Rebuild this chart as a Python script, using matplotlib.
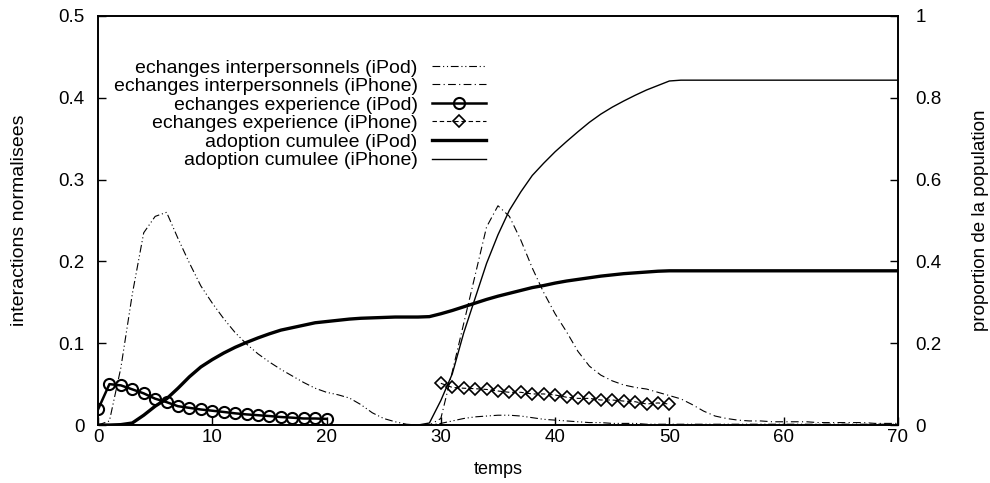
import numpy as np
import matplotlib
matplotlib.use("Agg")
import matplotlib.pyplot as plt

plt.rcParams["font.family"] = ["Liberation Sans", "DejaVu Sans"]

# temps
t_all = list(range(0, 71))
t_ipod_exp = list(range(0, 21))
t_iphone_exp = list(range(30, 51))

# echanges interpersonnels
inter_ipod = [0.0, 0.005, 0.07, 0.16, 0.235, 0.255, 0.26, 0.228, 0.198, 0.17,
              0.149, 0.13, 0.113, 0.099, 0.087, 0.077, 0.068, 0.06, 0.052, 0.045,
              0.04, 0.037, 0.033, 0.025, 0.015, 0.008, 0.004, 0.001, 0.0, 0.0,
              0.002, 0.005, 0.008, 0.01, 0.011, 0.012, 0.012, 0.011, 0.009, 0.007,
              0.006, 0.005, 0.004, 0.003, 0.003, 0.002, 0.002, 0.002, 0.001, 0.001,
              0.001, 0.001, 0.001, 0.001, 0.001, 0.001, 0.001, 0.001, 0.001, 0.001,
              0.001, 0.001, 0.001, 0.001, 0.001, 0.001, 0.001, 0.001, 0.001, 0.001,
              0.001]
inter_iphone = [0.0, 0.0, 0.0, 0.0, 0.0, 0.0, 0.0, 0.0, 0.0, 0.0,
                0.0, 0.0, 0.0, 0.0, 0.0, 0.0, 0.0, 0.0, 0.0, 0.0,
                0.0, 0.0, 0.0, 0.0, 0.0, 0.0, 0.0, 0.0, 0.0, 0.0,
                0.008, 0.065, 0.124, 0.183, 0.242, 0.268, 0.255, 0.226, 0.192, 0.162,
                0.136, 0.114, 0.09, 0.072, 0.061, 0.054, 0.049, 0.046, 0.044, 0.04,
                0.036, 0.032, 0.025, 0.017, 0.011, 0.008, 0.006, 0.005, 0.005, 0.004,
                0.004, 0.004, 0.004, 0.003, 0.003, 0.003, 0.003, 0.003, 0.002, 0.002,
                0.002]

# echanges experience
exp_ipod = [0.019, 0.05, 0.0485, 0.0436, 0.0387, 0.0322, 0.028, 0.023, 0.021, 0.019,
            0.0175, 0.016, 0.0143, 0.013, 0.012, 0.011, 0.0098, 0.009, 0.008, 0.008,
            0.0075]
exp_iphone = [0.051, 0.046, 0.045, 0.0444, 0.0435, 0.0416, 0.04, 0.04, 0.038, 0.038,
              0.0367, 0.034, 0.0326, 0.0326, 0.0306, 0.0306, 0.0293, 0.0285, 0.0257, 0.027,
              0.0257]

# adoption cumulee (axe de droite)
adopt_ipod = [0.0, 0.0, 0.001, 0.005, 0.024, 0.046, 0.064, 0.09, 0.118, 0.142,
              0.16, 0.176, 0.19, 0.202, 0.213, 0.223, 0.232, 0.238, 0.244, 0.25,
              0.253, 0.256, 0.259, 0.261, 0.262, 0.263, 0.264, 0.264, 0.264, 0.265,
              0.272, 0.28, 0.289, 0.298, 0.307, 0.315, 0.322, 0.329, 0.336, 0.341,
              0.347, 0.352, 0.356, 0.36, 0.364, 0.367, 0.37, 0.372, 0.374, 0.376,
              0.377, 0.377, 0.377, 0.377, 0.377, 0.377, 0.377, 0.377, 0.377, 0.377,
              0.377, 0.377, 0.377, 0.377, 0.377, 0.377, 0.377, 0.377, 0.377, 0.377,
              0.377]
adopt_iphone = [0.0, 0.0, 0.0, 0.0, 0.0, 0.0, 0.0, 0.0, 0.0, 0.0,
                0.0, 0.0, 0.0, 0.0, 0.0, 0.0, 0.0, 0.0, 0.0, 0.0,
                0.0, 0.0, 0.0, 0.0, 0.0, 0.0, 0.0, 0.0, 0.0, 0.005,
                0.06, 0.125, 0.225, 0.31, 0.395, 0.465, 0.525, 0.57, 0.61, 0.64,
                0.668, 0.693, 0.717, 0.74, 0.76, 0.777, 0.792, 0.806, 0.819, 0.83,
                0.841, 0.843, 0.843, 0.843, 0.843, 0.843, 0.843, 0.843, 0.843, 0.843,
                0.843, 0.843, 0.843, 0.843, 0.843, 0.843, 0.843, 0.843, 0.843, 0.843,
                0.843]

fig = plt.figure(figsize=(9.9, 4.83), dpi=100)
ax = fig.add_axes([0.099, 0.12, 0.808, 0.847])
ax2 = ax.twinx()

h1, = ax.plot(t_all, inter_ipod, color="k", lw=0.8,
              linestyle=(0, (7, 2.5, 1, 2.5, 1, 2.5)),
              label="echanges interpersonnels (iPod)")
h2, = ax.plot(t_all, inter_iphone, color="k", lw=0.8,
              linestyle=(0, (7, 3, 1, 3)),
              label="echanges interpersonnels (iPhone)")
h3, = ax.plot(t_ipod_exp, exp_ipod, color="k", lw=1.8, marker="o", ms=8,
              mfc="none", mew=1.5, label="echanges experience (iPod)")
h4, = ax.plot(t_iphone_exp, exp_iphone, color="k", lw=0.8, linestyle=(0, (4, 2.5)),
              marker="D", ms=6, mfc="none", mew=1.2,
              label="echanges experience (iPhone)")
h5, = ax2.plot(t_all, adopt_ipod, color="k", lw=2.4, label="adoption cumulee (iPod)")
h6, = ax2.plot(t_all, adopt_iphone, color="k", lw=1.0, label="adoption cumulee (iPhone)")

ax.set_xlim(0, 70)
ax.set_ylim(0, 0.5)
ax2.set_ylim(0, 1)
ax.set_xticks(range(0, 71, 10))
ax.set_yticks([0, 0.1, 0.2, 0.3, 0.4, 0.5])
ax.set_yticklabels(["0", "0.1", "0.2", "0.3", "0.4", "0.5"])
ax2.set_yticks([0, 0.2, 0.4, 0.6, 0.8, 1])
ax2.set_yticklabels(["0", "0.2", "0.4", "0.6", "0.8", "1"])

ax.tick_params(direction="in", length=6, width=1, labelsize=13.5,
               top=False, right=False)
ax.tick_params(axis="x", pad=3)
ax.tick_params(axis="y", pad=9.5)
ax2.tick_params(direction="in", length=6, width=1, labelsize=13.5, pad=12.5)
for a in (ax, ax2):
    for s in a.spines.values():
        s.set_linewidth(1.2)

ax.set_xlabel("temps", fontsize=13, labelpad=11)
ax.set_ylabel("interactions normalisees", fontsize=14, labelpad=22)
ax2.set_ylabel("proportion de la population", fontsize=13.5, labelpad=22)

ax2.legend(handles=[h1, h2, h3, h4, h5, h6], loc="upper right",
           bbox_to_anchor=(0.485, 0.895), markerfirst=False, frameon=False,
           fontsize=14, handlelength=2.8, handletextpad=0.72,
           labelspacing=0.05, borderpad=0, borderaxespad=0)

fig.savefig("out.png", dpi=100)
